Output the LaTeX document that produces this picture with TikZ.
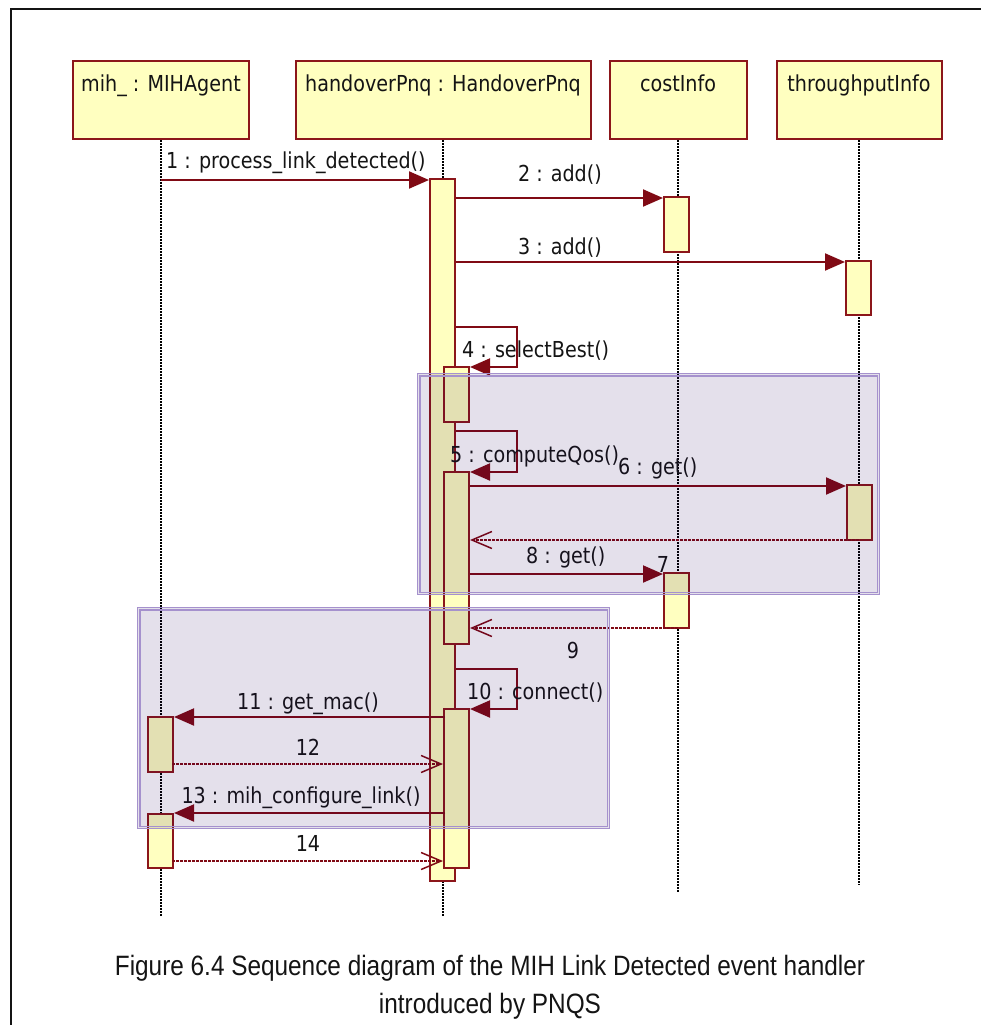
\documentclass[tikz,border=0pt]{standalone}
\usepackage{fontspec}
\usetikzlibrary{arrows.meta}
\newfontfamily\umlfont{DejaVu Sans}[FakeStretch=0.87]
\newfontfamily\capfont{Liberation Sans}[FakeStretch=0.87]
\definecolor{boxfill}{RGB}{255,255,192}
\definecolor{boxline}{RGB}{140,22,26}
\definecolor{msg}{RGB}{128,10,20}
\definecolor{fragline}{RGB}{165,145,205}
\definecolor{fragfill}{RGB}{30,0,88}
\definecolor{ink}{RGB}{20,20,20}
\begin{document}
\begin{tikzpicture}[x=1pt,y=-1pt,
  umltext/.style={font=\umlfont\fontsize{22}{26}\selectfont, text=ink},
  head/.style={umltext, draw=boxline, fill=boxfill, line width=2pt, anchor=north,
    inner xsep=0pt, inner ysep=0pt, text height=31pt, text depth=47pt, minimum height=78pt},
  bar/.style={draw=boxline, fill=boxfill, line width=2pt, anchor=north west,
    inner sep=0pt, minimum width=25pt},
  lifeline/.style={draw=black, line width=1.5pt, dash pattern=on 2pt off 1pt},
  call/.style={draw=msg, line width=2pt, -{Triangle[length=20pt,width=17pt]}},
  ret/.style={draw=msg, line width=1.5pt, dash pattern=on 3pt off 1pt,
    -{Straight Barb[length=20pt,width=17pt,line width=1.5pt]}},
  lbl/.style={umltext, inner sep=0pt},
  frag/.style={fill=fragfill, fill opacity=0.12, draw=fragline, line width=1.2pt,
    anchor=north west, inner sep=0pt},
  fragedge/.style={draw=fragline, line width=1.2pt},
  capt/.style={font=\capfont\fontsize{28}{34}\selectfont, text=ink, inner sep=0pt, anchor=base},
]
\useasboundingbox (0,0) rectangle (981,1025);

% outer frame
\draw[line width=2pt, draw=ink] (11,1100) -- (11,9) -- (1100,9);

% object heads
\node[head, minimum width=176pt] (mih) at (161,60) {mih\_ : MIHAgent};
\node[head, minimum width=295pt] (ho) at (443,60) {handoverPnq : HandoverPnq};
\node[head, minimum width=137pt] (cost) at (678,60) {costInfo};
\node[head, minimum width=165pt] (thr) at (859,60) {throughputInfo};

% lifelines
\coordinate (mihend) at (161,916);
\coordinate (hoend) at (443,916);
\coordinate (costend) at (678,892);
\coordinate (thrend) at (859,885);
\draw[lifeline] (mih.south) -- (mihend);
\draw[lifeline] (ho.south) -- (hoend);
\draw[lifeline] (cost.south) -- (costend);
\draw[lifeline] (thr.south) -- (thrend);

% activation bars
\node[bar, minimum height=702pt] (hb) at (429,178) {};
\node[bar, minimum height=55pt] (cb1) at (663,196) {};
\node[bar, minimum height=54pt] (tb1) at (845,260) {};
\node[bar, minimum height=55pt] (sel) at (443,366) {};
\node[bar, minimum height=172pt] (cq) at (443,471) {};
\node[bar, minimum height=55pt] (tb2) at (846,484) {};
\node[bar, minimum height=55pt] (cb2) at (663,572) {};
\node[bar, minimum height=159pt] (cn) at (443,708) {};
\node[bar, minimum height=55pt] (mb1) at (147,716) {};
\node[bar, minimum height=54pt] (mb2) at (147,813) {};

% messages
\coordinate (m1s) at (161,180);
\draw[call] (m1s) -- (m1s -| hb.west);
\coordinate (m2s) at (456,198);
\draw[call] (m2s) -- (m2s -| cb1.west);
\coordinate (m3s) at (456,262);
\draw[call] (m3s) -- (m3s -| tb1.west);
\coordinate (m4s) at (456,327);
\draw[call] (m4s) -- ++(61,0) |- ([yshift=-1pt]sel.north east);
\coordinate (m5s) at (456,431);
\draw[call] (m5s) -- ++(61,0) |- ([yshift=-1pt]cq.north east);
\coordinate (m6s) at (470,486);
\draw[call] (m6s) -- (m6s -| tb2.west);
\coordinate (r6s) at (859,540);
\draw[ret] (r6s) -- (r6s -| cq.east);
\coordinate (m8s) at (470,574);
\draw[call] (m8s) -- (m8s -| cb2.west);
\coordinate (r9s) at (678,628);
\draw[ret] (r9s) -- (r9s -| cq.east);
\coordinate (m10s) at (456,669);
\draw[call] (m10s) -- ++(61,0) |- ([yshift=-1pt]cn.north east);
\coordinate (m11s) at (445,717);
\draw[call] (m11s) -- (m11s -| mb1.east);
\coordinate (r12s) at (172,764);
\draw[ret] (r12s) -- (r12s -| cn.west);
\coordinate (m13s) at (445,813);
\draw[call] (m13s) -- (m13s -| mb2.east);
\coordinate (r14s) at (172,861);
\draw[ret] (r14s) -- (r14s -| cn.west);

% message labels
\node[lbl, anchor=base west] (l1) at (166,168) {1 : process\_link\_detected()};
\node[lbl, anchor=base east] (l2) at (602,181) {2 : add()};
\node[lbl, anchor=base east] (l3) at (602,254) {3 : add()};
\node[lbl, anchor=base west] (l4) at (462,357) {4 : selectBest()};
\node[lbl, anchor=base west] (l5) at (450,462) {5 : computeQos()};
\node[lbl, anchor=base west] (l6) at (618,474) {6 : get()};
\node[lbl, anchor=base] (l7) at (663,572) {7};
\node[lbl, anchor=base west] (l8) at (526,563) {8 : get()};
\node[lbl, anchor=base] (l9) at (573,658) {9};
\node[lbl, anchor=base west] (l10) at (467,699) {10 : connect()};
\node[lbl, anchor=base] (l11) at (308,709) {11 : get\_mac()};
\node[lbl, anchor=base] (l12) at (308,755) {12};
\node[lbl, anchor=base] (l13) at (301,803) {13 : mih\_configure\_link()};
\node[lbl, anchor=base] (l14) at (308,851) {14};

% combined fragments
\node[frag, minimum width=462pt, minimum height=221pt] (fragA) at (417,373) {};
\draw[fragedge] ([shift={(3,3)}]fragA.north west) rectangle ([shift={(-3,-3)}]fragA.south east);
\node[frag, minimum width=472pt, minimum height=221pt] (fragB) at (137,607) {};
\draw[fragedge] ([shift={(3,3)}]fragB.north west) rectangle ([shift={(-3,-3)}]fragB.south east);

% caption
\node[capt] (cap1) at (490,975) {Figure 6.4 Sequence diagram of the MIH Link Detected event handler};
\node[capt] (cap2) at (490,1013) {introduced by PNQS};
\end{tikzpicture}
\end{document}
